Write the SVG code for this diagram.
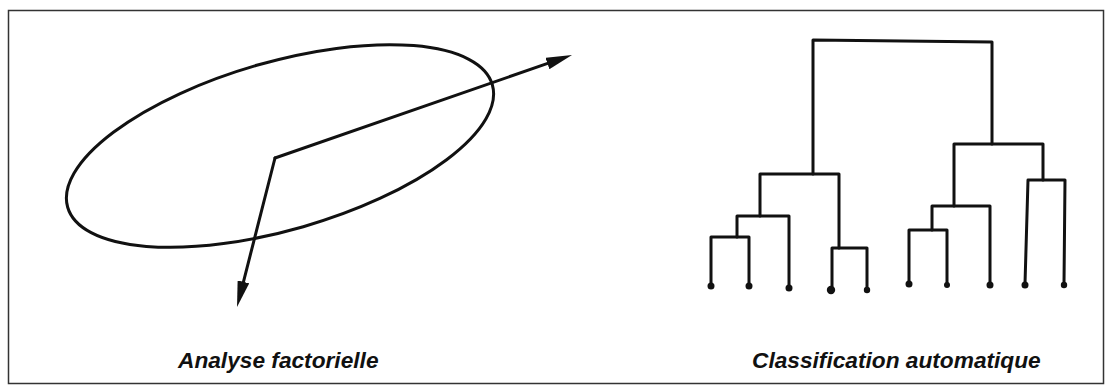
<svg xmlns="http://www.w3.org/2000/svg" width="1112" height="392" viewBox="0 0 1112 392">
  <style>
    .ink { fill: none; stroke: #111; stroke-width: 3; stroke-linejoin: round; stroke-linecap: round; }
    .leaf { fill: #111; }
    .label { font-family: "Liberation Sans", Arial, sans-serif; font-weight: bold; font-style: italic; font-size: 22.7px; fill: #111; }
  </style>
  <defs>
    <marker id="head" viewBox="-1 -6 26 12" refX="0" refY="0" markerWidth="26" markerHeight="12" markerUnits="userSpaceOnUse" orient="auto">
      <path d="M-1,-6 L25,0 L-1,6 z" fill="#111"/>
    </marker>
  </defs>
  <rect x="0" y="0" width="1112" height="392" fill="#fff"/>
  <rect id="frame" x="8.5" y="10.5" width="1095" height="373" fill="none" stroke="#333" stroke-width="1.5"/>

  <g id="factorial">
    <g id="cloud">
      <ellipse class="ink" cx="280" cy="146" rx="221" ry="84" transform="rotate(-16.1 280 146)"/>
    </g>
    <g id="connectors">
      <path class="ink" d="M275,158 L548.4,63.2" marker-end="url(#head)"/>
      <path class="ink" d="M275,158 L243.2,282.8" marker-end="url(#head)"/>
    </g>
    <text id="label-factorial" class="label" x="178" y="368">Analyse factorielle</text>
  </g>

  <g id="dendrogram">
    <g id="tree" class="ink">
      <path d="M813,174 L813,40 L992,42 L992,144"/>
      <path d="M760,216 L760,174 L839,174 L839,248"/>
      <path d="M737,237 L737,216 L789,216 L789,288"/>
      <path d="M711,285 L711,237 L749,237 L749,285"/>
      <path d="M832,290 L832,248 L867,248 L867,290"/>
      <path d="M954,206 L954,144 L1043,144 L1043,180"/>
      <path d="M932,230 L932,206 L990,206 L990,284"/>
      <path d="M909,284 L909,230 L947,230 L947,284"/>
      <path d="M1025,284 L1028,180 L1065,180 L1064,284"/>
    </g>
    <g id="leaves">
      <circle class="leaf" cx="711" cy="286" r="3.5"/>
      <circle class="leaf" cx="749" cy="286" r="3.5"/>
      <circle class="leaf" cx="789" cy="288" r="3.5"/>
      <circle class="leaf" cx="831" cy="290" r="4.2"/>
      <circle class="leaf" cx="867" cy="290" r="3.2"/>
      <circle class="leaf" cx="909" cy="284" r="3.5"/>
      <circle class="leaf" cx="947" cy="285" r="3"/>
      <circle class="leaf" cx="990" cy="285" r="3.5"/>
      <circle class="leaf" cx="1025" cy="285" r="3.5"/>
      <circle class="leaf" cx="1064" cy="285" r="3.2"/>
    </g>
    <text id="label-classification" class="label" x="752" y="368">Classification automatique</text>
  </g>
</svg>
